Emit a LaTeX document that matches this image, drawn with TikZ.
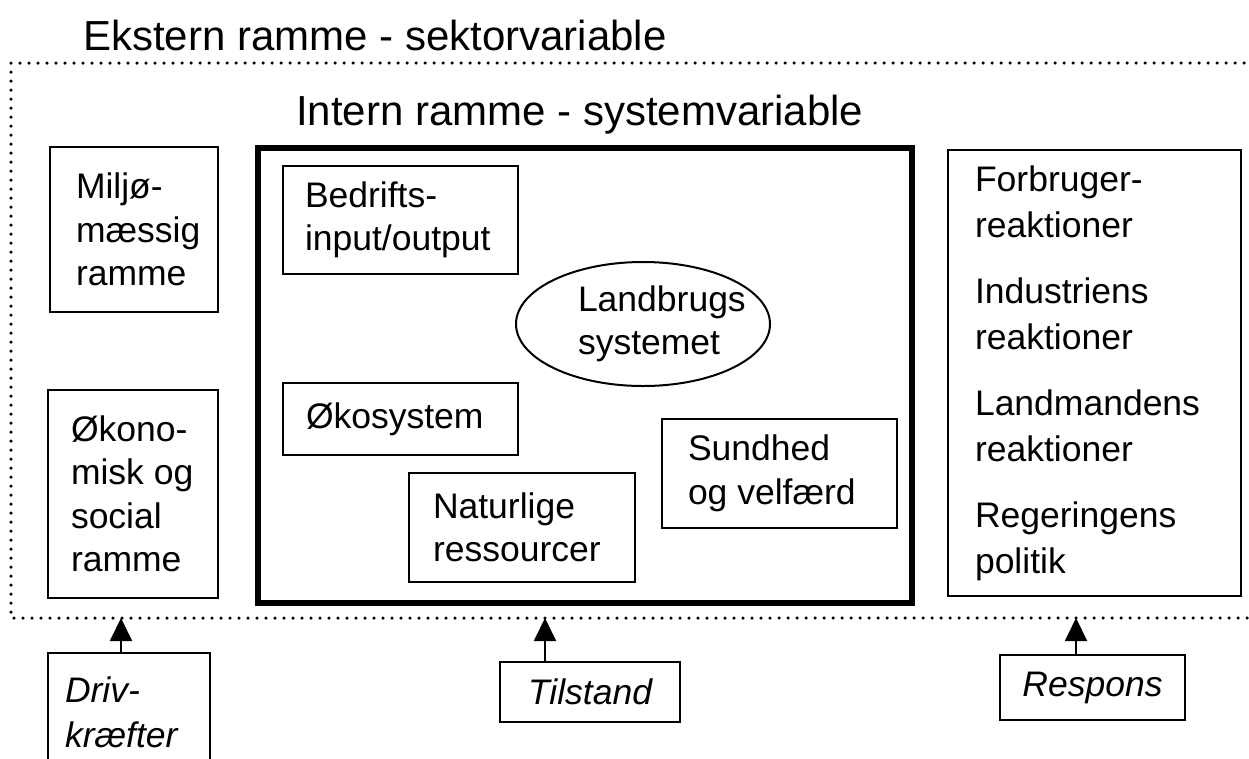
\documentclass[tikz,border=0pt]{standalone}
\usepackage{fontspec}
\setmainfont{Liberation Sans}
\usepackage{tikz}
\usetikzlibrary{arrows.meta,shapes.geometric}

\begin{document}
\begin{tikzpicture}[x=1pt,y=-1pt,>={Triangle[width=22pt,length=23pt]},line width=2pt]
  \tikzstyle{box}=[draw,rectangle,align=flush left,inner ysep=0pt,font=\fontsize{35.5}{43.5}\selectfont]
  \tikzstyle{kasse}=[draw,rectangle,align=center,inner sep=0pt,font=\fontsize{35.5}{43.5}\selectfont\itshape]
  \tikzstyle{titel}=[anchor=base west,inner sep=0pt,font=\fontsize{42}{50}\selectfont]
  \tikzstyle{prikker}=[line width=3.5pt,line cap=round,dash pattern=on 0pt off 9pt]

  \useasboundingbox (0,0) rectangle (1249,758);

  % ydre ramme
  \node[titel] (ekstern) at (82,50) {Ekstern ramme - sektorvariable};
  \draw[prikker] (1262,63) -- (11,63) -- (11,618) -- (1262,618);

  % indre ramme
  \node[titel] (internt) at (295,125) {Intern ramme - systemvariable};
  \node[draw,line width=6pt,inner sep=0pt,minimum width=654pt,minimum height=455pt] (intern) at (585,375.5) {};

  \node[box,inner xsep=26pt,text width=116pt,minimum height=165pt] (miljo) at (134,229.5) {Miljø-\\mæssig\\ramme};
  \node[box,inner xsep=23pt,text width=124pt,minimum height=208pt] (okonomi) at (133,494) {Økono-\\misk~og\\social\\ramme};

  \node[box,inner xsep=22pt,text width=191pt,minimum height=108pt] (bedrift) at (400.5,220) {Bedrifts-\\input/output};
  \node[draw,ellipse,inner sep=0pt,align=flush left,text width=130pt,minimum width=254pt,minimum height=124pt,
        font=\fontsize{35.5}{43}\selectfont] (landbrug) at (643,324) {Landbrugs\\systemet};
  \node[box,inner xsep=23pt,text width=189pt,minimum height=72pt] (oko) at (400.5,419) {Økosystem};
  \node[box,inner xsep=24pt,text width=178pt,minimum height=109pt] (natur) at (522,527.5) {Naturlige\\ressourcer};
  \node[box,inner xsep=26pt,text width=183pt,minimum height=109pt] (sund) at (779.5,473.5) {Sundhed\\og~velfærd};

  \node[box,inner xsep=27pt,text width=239pt,minimum height=446pt,font=\fontsize{35.5}{46}\selectfont] (reakt) at (1094.5,373)
    {Forbruger-\\reaktioner\\[20pt]Industriens\\reaktioner\\[20pt]Landmandens\\reaktioner\\[20pt]Regeringens\\politik};

  % drivkraefter, tilstand, respons
  \node[box,inner xsep=17pt,text width=128pt,minimum height=118pt,font=\fontsize{35.5}{45}\selectfont\itshape] (driv) at (129,712) {Driv-\\kræfter};
  \node[kasse,minimum width=180pt,minimum height=60pt] (tilstand) at (590,692) {Tilstand};
  \node[kasse,minimum width=185pt,minimum height=65pt] (respons) at (1092.5,687.5) {Respons};

  \coordinate (pD) at (121,618);
  \coordinate (pT) at (545,618);
  \coordinate (pR) at (1076,618);
  \draw[->] (pD |- driv.north) -- (pD);
  \draw[->] (pT |- tilstand.north) -- (pT);
  \draw[->] (pR |- respons.north) -- (pR);
\end{tikzpicture}
\end{document}
